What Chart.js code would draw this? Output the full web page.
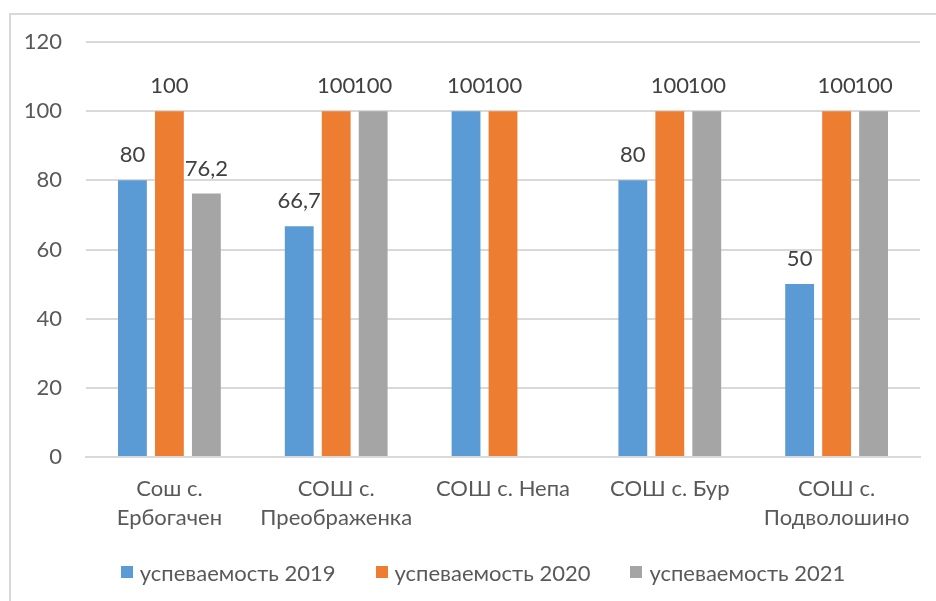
<!DOCTYPE html>
<html>
<head>
<meta charset="utf-8">
<script src="https://cdn.jsdelivr.net/npm/chart.js@4.4.0/dist/chart.umd.min.js"></script>
<style>
  body { margin: 0; background: #fff; }
  #wrap { position: relative; width: 936px; height: 601px; overflow: hidden; }
  #frame { position: absolute; left: 9px; top: 13px; width: 1000px; height: 700px;
           border-left: 2px solid #d9d9d9; border-top: 2px solid #d9d9d9; }
  #chartArea { position: absolute; left: 0; top: 0; }
  #legend { position: absolute; left: 0; width: 966px; top: 558px; height: 28px;
            display: flex; justify-content: center; align-items: center;
            font: 22px Lato, "Open Sans", sans-serif; color: #595959; }
  #legend .item { display: flex; align-items: center; margin: 0 20px; white-space: nowrap; }
  #legend .box { width: 12px; height: 12px; margin-right: 7px; }
</style>
</head>
<body>
<div id="wrap">
  <div id="frame"></div>
  <div id="chartArea"><canvas id="chartSchools" width="936" height="601"></canvas></div>
  <div id="legend"></div>
</div>
<script>
const schoolLabels = [
  ['Сош с.', 'Ербогачен'],
  ['СОШ с.', 'Преображенка'],
  'СОШ с. Непа',
  'СОШ с. Бур',
  ['СОШ с.', 'Подволошино'],
];
const seriesNames = ['успеваемость 2019', 'успеваемость 2020', 'успеваемость 2021'];
const values2019 = [80, 66.7, 100, 80, 50];
const values2020 = [100, 100, 100, 100, 100];
const values2021 = [76.2, 100, null, 100, 100];
const yTicks = [0, 20, 40, 60, 80, 100, 120];

const colors = ['#5b9bd5', '#ed7d31', '#a5a5a5'];
const textColor = '#595959';
const fontFamily = 'Lato, "Open Sans", sans-serif';
const fontSize = 22;

// value labels above bars
const barLabels = {
  id: 'barLabels',
  afterDatasetsDraw(chart) {
    const ctx = chart.ctx;
    ctx.save();
    ctx.font = fontSize + 'px ' + fontFamily;
    ctx.fillStyle = '#404040';
    ctx.textAlign = 'center';
    ctx.textBaseline = 'middle';
    chart.data.datasets.forEach((ds, i) => {
      const meta = chart.getDatasetMeta(i);
      meta.data.forEach((bar, j) => {
        const v = ds.data[j];
        if (v == null) return;
        ctx.fillText(String(v).replace('.', ','), bar.x, bar.y - 25);
      });
    });
    ctx.restore();
  },
};

Chart.defaults.font.family = fontFamily;
Chart.defaults.color = textColor;

const ctx = document.getElementById('chartSchools').getContext('2d');
const chartSchools = new Chart(ctx, {
  type: 'bar',
  data: {
    labels: schoolLabels,
    datasets: [
      { label: seriesNames[0], data: values2019, backgroundColor: colors[0] },
      { label: seriesNames[1], data: values2020, backgroundColor: colors[1] },
      { label: seriesNames[2], data: values2021, backgroundColor: colors[2] },
    ],
  },
  options: {
    responsive: false,
    animation: false,
    datasets: {
      bar: { categoryPercentage: 0.665, barPercentage: 0.78 },
    },
    layout: { padding: { left: 0, right: 16, top: 42, bottom: 70 } },
    plugins: {
      tooltip: { enabled: false },
      legend: { display: false },
    },
    scales: {
      x: {
        grid: { display: false },
        border: { color: '#d9d9d9', width: 2 },
        ticks: {
          color: textColor,
          font: { size: fontSize, lineHeight: '29px' },
          padding: 9,
          maxRotation: 0,
          autoSkip: false,
        },
        afterFit(scale) { scale.height = 74; },
      },
      y: {
        min: 0,
        max: 120,
        afterBuildTicks(scale) { scale.ticks = yTicks.map((v) => ({ value: v })); },
        grid: { color: '#d9d9d9', lineWidth: 2, drawTicks: false },
        border: { display: false },
        ticks: { color: textColor, font: { size: fontSize }, padding: 24 },
        afterFit(scale) { scale.width = 86; },
      },
    },
  },
  plugins: [barLabels],
});

// legend built from the chart's own datasets
const legendBox = document.getElementById('legend');
chartSchools.data.datasets.forEach((ds) => {
  const item = document.createElement('div');
  item.className = 'item';
  const box = document.createElement('span');
  box.className = 'box';
  box.style.background = ds.backgroundColor;
  const text = document.createElement('span');
  text.textContent = ds.label;
  item.append(box, text);
  legendBox.append(item);
});
</script>
</body>
</html>
